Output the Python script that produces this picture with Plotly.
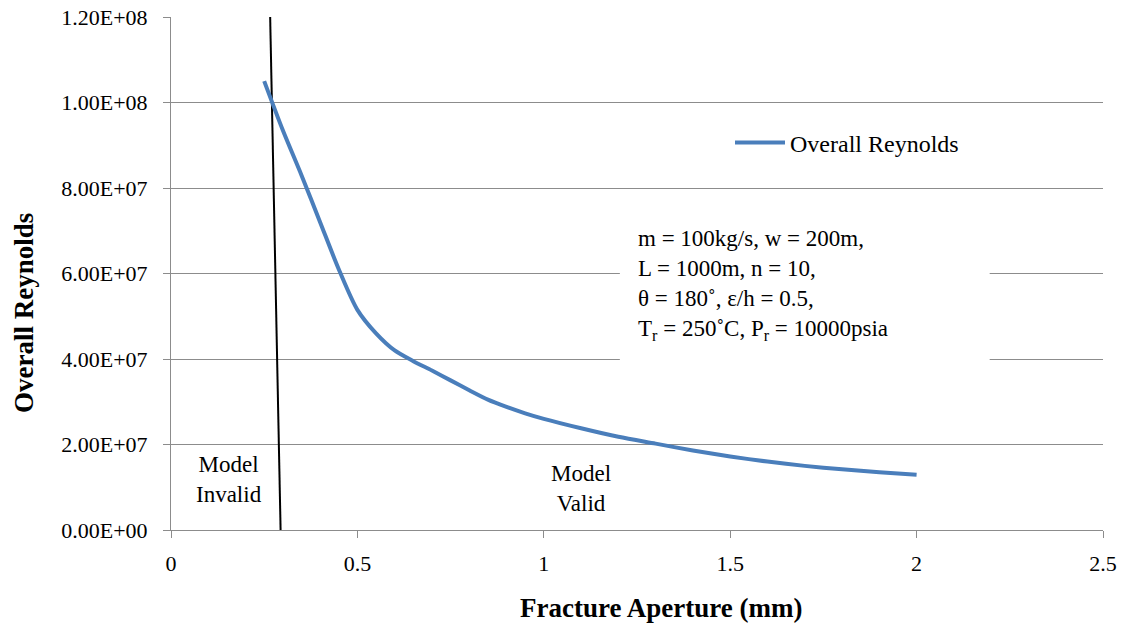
import plotly.graph_objects as go

# Overall Reynolds number versus fracture aperture
aperture_mm = [0.25, 0.30, 0.35, 0.40, 0.45, 0.50, 0.55, 0.60, 0.65, 0.70, 0.75,
               0.80, 0.85, 0.90, 0.95, 1.00, 1.10, 1.20, 1.30, 1.40, 1.50, 1.60,
               1.70, 1.80, 1.90, 2.00]
overall_reynolds = [1.05e8, 9.35e7, 8.3e7, 7.2e7, 6.1e7, 5.15e7, 4.6e7, 4.2e7,
                    3.95e7, 3.73e7, 3.5e7, 3.27e7, 3.05e7, 2.88e7, 2.73e7, 2.6e7,
                    2.38e7, 2.18e7, 2.02e7, 1.86e7, 1.72e7, 1.60e7, 1.50e7, 1.42e7,
                    1.35e7, 1.29e7]

# Validity boundary line
boundary_x = [0.266, 0.294]
boundary_y = [1.2e8, 0.0]

y_tick_values = [0, 2e7, 4e7, 6e7, 8e7, 1.0e8, 1.2e8]
y_tick_labels = [f"{v:.2E}" for v in y_tick_values]
x_tick_values = [0, 0.5, 1, 1.5, 2, 2.5]
x_tick_labels = ["0", "0.5", "1", "1.5", "2", "2.5"]

FONT = "Liberation Serif, Times New Roman, serif"
GRID = "#8c8c8c"

fig = go.Figure()
fig.add_trace(go.Scatter(
    x=boundary_x, y=boundary_y, mode="lines",
    line=dict(color="black", width=2), showlegend=False, hoverinfo="skip",
))
fig.add_trace(go.Scatter(
    x=aperture_mm, y=overall_reynolds, mode="lines", name="Overall Reynolds",
    line=dict(color="#4A7EBB", width=4, shape="spline", smoothing=0.8),
))

# White panel behind the parameter list (interrupts the gridlines)
fig.add_shape(type="rect", xref="x", yref="y", x0=1.204, x1=2.196, y0=3.85e7, y1=7.35e7,
              fillcolor="white", line=dict(width=0), layer="between")

param_text = ("m = 100kg/s, w = 200m,<br>"
              "L = 1000m, n = 10,<br>"
              "θ = 180˚, ε/h = 0.5,<br>"
              "T<sub>r</sub> = 250˚C, P<sub>r</sub> = 10000psia")

annotations = [
    dict(text=param_text, xref="paper", yref="paper",
         x=(636 - 171) / 932, y=(530 - 285) / 513, xanchor="left", yanchor="middle",
         align="left", showarrow=False,
         font=dict(family=FONT, size=23, color="black")),
    dict(text="Model<br>Invalid", x=0.155, y=1.17e7, xref="x", yref="y",
         showarrow=False, font=dict(family=FONT, size=23, color="black")),
    dict(text="Model<br>Valid", x=1.10, y=0.97e7, xref="x", yref="y",
         showarrow=False, font=dict(family=FONT, size=23, color="black")),
    dict(text="<b>Fracture Aperture (mm)</b>", xref="paper", yref="paper",
         x=(661 - 171) / 932, y=(530 - 608) / 513, xanchor="center", yanchor="middle",
         showarrow=False, font=dict(family=FONT, size=27, color="black")),
    dict(text="<b>Overall Reynolds</b>", xref="paper", yref="paper",
         x=(24 - 171) / 932, y=(530 - 313) / 513, xanchor="center", yanchor="middle",
         textangle=-90, showarrow=False, font=dict(family=FONT, size=27, color="black")),
]

fig.update_layout(
    width=1123, height=627,
    margin=dict(l=171, r=20, t=17, b=97),
    paper_bgcolor="white", plot_bgcolor="white",
    font=dict(family=FONT, size=22, color="black"),
    annotations=annotations,
    legend=dict(x=(730 - 171) / 932, y=(530 - 143) / 513, xanchor="left", yanchor="middle",
                bgcolor="rgba(0,0,0,0)", font=dict(family=FONT, size=24, color="black"),
                itemwidth=50),
    xaxis=dict(range=[0, 2.5], tickvals=x_tick_values, ticktext=x_tick_labels,
               showgrid=False, zeroline=False, showline=True, linecolor=GRID, linewidth=1,
               ticks="outside", ticklen=7, tickcolor=GRID, ticklabelstandoff=7,
               automargin=False,
               tickfont=dict(family=FONT, size=22, color="black")),
    yaxis=dict(range=[0, 1.2e8], tickvals=y_tick_values, ticktext=y_tick_labels,
               showgrid=True, gridcolor=GRID, gridwidth=1, zeroline=False,
               showline=True, linecolor=GRID, linewidth=1,
               ticks="outside", ticklen=7, tickcolor=GRID, ticklabelstandoff=11,
               automargin=False,
               tickfont=dict(family=FONT, size=22, color="black")),
)

fig.write_html("out.html")
